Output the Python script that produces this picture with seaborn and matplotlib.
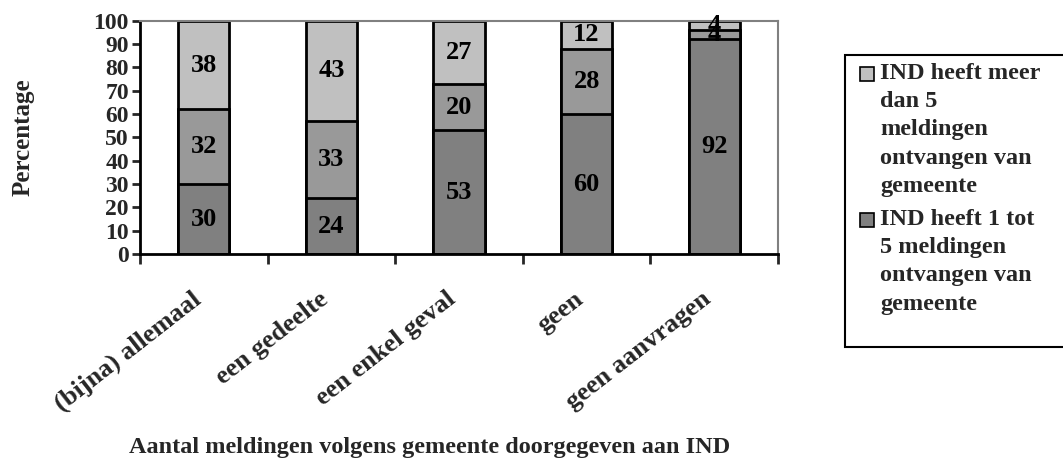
import numpy as np
import pandas as pd
import matplotlib
matplotlib.use("Agg")
import matplotlib.pyplot as plt
import matplotlib.transforms as mtransforms
import seaborn as sns
from matplotlib.patches import Rectangle

# categories and series (percentages)
categories = ["(bijna) allemaal", "een gedeelte", "een enkel geval", "geen", "geen aanvragen"]
ind_1_tot_5 = [30, 24, 53, 60, 92]
ind_geen = [32, 33, 20, 28, 4]
ind_meer_dan_5 = [38, 43, 27, 12, 4]

legend_labels = ["IND heeft meer\ndan 5\nmeldingen\nontvangen van\ngemeente",
                 "IND heeft 1 tot\n5 meldingen\nontvangen van\ngemeente"]

col_dark = "#808080"
col_mid = "#999999"
col_light = "#C0C0C0"

sns.set_theme(style="white")
plt.rcParams["font.family"] = ["Liberation Serif", "DejaVu Serif"]
plt.rcParams["font.weight"] = "bold"

df = pd.DataFrame({
    "cat": categories,
    "low": ind_1_tot_5,
    "mid": ind_geen,
    "high": ind_meer_dan_5,
})
df["c1"] = df["low"]
df["c2"] = df["low"] + df["mid"]
df["c3"] = df["c2"] + df["high"]

W, H = 1063, 468
fig = plt.figure(figsize=(W / 100, H / 100), dpi=100)
ax = fig.add_axes([140 / W, 1 - 254 / H, (778 - 140) / W, (254 - 20.7) / H])

for col, color in [("c3", col_light), ("c2", col_mid), ("c1", col_dark)]:
    sns.barplot(data=df, x="cat", y=col, color=color, width=0.4,
                edgecolor="black", linewidth=2, ax=ax, saturation=1)

# segment labels
for i, row in df.iterrows():
    bottoms = [0, row["c1"], row["c2"]]
    vals = [row["low"], row["mid"], row["high"]]
    for b, v in zip(bottoms, vals):
        ax.text(i, b + v / 2, str(v), ha="center", va="center",
                fontsize=19, fontweight="bold", color="black")

ax.set_xlim(-0.5, len(categories) - 0.5)
ax.set_ylim(0, 100)
ax.set_yticks(np.arange(0, 101, 10))
ax.tick_params(axis="y", which="major", direction="out", length=6, width=2,
               left=True, labelsize=17, pad=2)
ax.set_xticks(range(len(categories)))
ax.set_xticklabels(categories, rotation=38, ha="right", rotation_mode="anchor",
                   fontsize=19, fontweight="bold")
ax.tick_params(axis="x", which="major", length=0, pad=24)
ax.set_xticks(np.arange(-0.5, len(categories), 1), minor=True)
ax.tick_params(axis="x", which="minor", direction="out", length=7, width=2, bottom=True)
shift = mtransforms.ScaledTranslation(-0.13, 0, fig.dpi_scale_trans)
for lab in ax.get_xticklabels():
    lab.set_transform(lab.get_transform() + shift)
for lab in ax.get_yticklabels():
    lab.set_fontweight("bold")

ax.set_xlabel("")
ax.set_ylabel("")
for s in ["left", "bottom"]:
    ax.spines[s].set_color("black")
    ax.spines[s].set_linewidth(2)
for s in ["top", "right"]:
    ax.spines[s].set_color("#808080")
    ax.spines[s].set_linewidth(1.5)

fig.text(23 / W, 1 - 137 / H, "Percentage", rotation=90, ha="center", va="center",
         fontsize=18, fontweight="bold")
fig.text(430 / W, 1 - 448 / H, "Aantal meldingen volgens gemeente doorgegeven aan IND",
         ha="center", va="center", fontsize=17.5, fontweight="bold")

# legend box
fig.add_artist(Rectangle((845 / W, 1 - 347 / H), 230 / W, 292 / H, transform=fig.transFigure,
                         facecolor="white", edgecolor="black", linewidth=1.5))
for (ytop, color, label) in [(67, col_light, legend_labels[0]), (213, col_dark, legend_labels[1])]:
    fig.add_artist(Rectangle((860 / W, 1 - (ytop + 14) / H), 14 / W, 14 / H,
                             transform=fig.transFigure, facecolor=color,
                             edgecolor="black", linewidth=1.2))
    fig.text(880 / W, 1 - (ytop - 4) / H, label, ha="left", va="top",
             fontsize=17.5, fontweight="bold", linespacing=1.45)

fig.savefig("out.png", dpi=100)
